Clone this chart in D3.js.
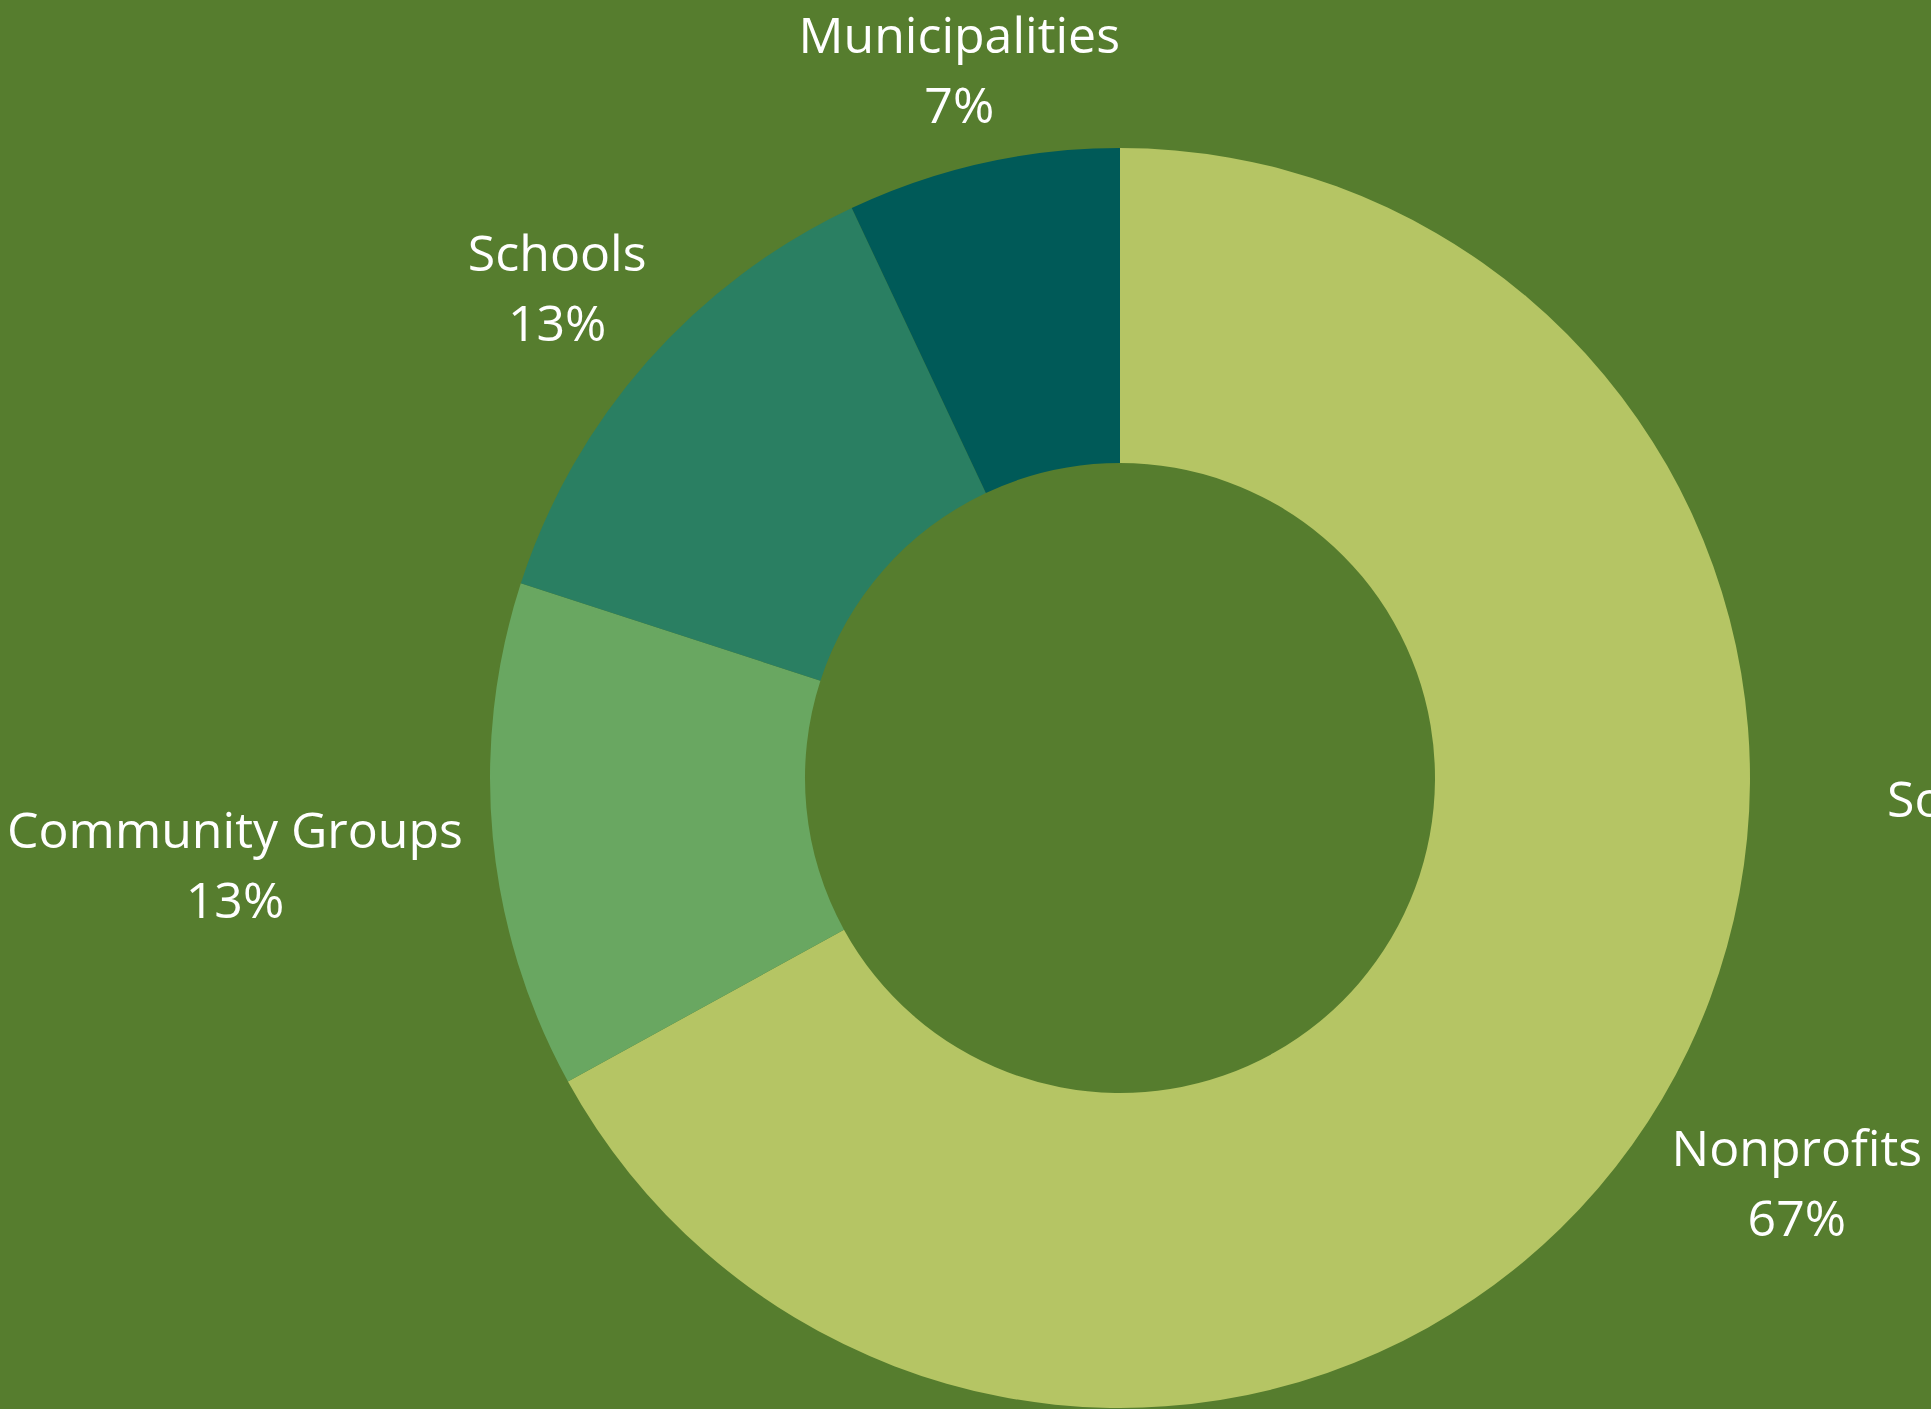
<!DOCTYPE html>
<html>
<head>
<meta charset="utf-8">
<script src="https://cdn.jsdelivr.net/npm/d3@7"></script>
<style>
  html, body { margin: 0; padding: 0; background: #567D2E; overflow: hidden; }
  svg { display: block; }
  text { font-family: "Open Sans", sans-serif; font-weight: 400; fill: #ffffff; }
</style>
</head>
<body>
<svg id="chart"></svg>
<script>
// ---- data ----
const categories = ["Nonprofits", "Community Groups", "Schools", "Municipalities"];
const values = [67, 13, 13, 7];
const valueLabels = ["67%", "13%", "13%", "7%"];
const sliceColors = ["#B5C564", "#69A761", "#2A7F62", "#005A58"];
const sideNote = "So";

// ---- layout ----
const W = 1931, H = 1409;
const cx = 1120, cy = 778;
const outerR = 630, innerR = 315;
const labelR = 661;
const fontSize = 50, lineGap = 70;

const svg = d3.select("#chart").attr("width", W).attr("height", H);
svg.append("rect").attr("width", W).attr("height", H).attr("fill", "#567D2E");

const color = d3.scaleOrdinal().domain(categories).range(sliceColors);
const pie = d3.pie().sort(null).value(d => d.value);
const arc = d3.arc().innerRadius(innerR).outerRadius(outerR);

const data = categories.map((c, i) => ({ name: c, value: values[i], label: valueLabels[i] }));
const arcs = pie(data);

const g = svg.append("g").attr("transform", `translate(${cx},${cy})`);
g.selectAll("path.slice").data(arcs).join("path")
  .attr("class", "slice")
  .attr("d", arc)
  .attr("fill", d => color(d.data.name));

// ---- labels: two-line boxes pushed outward along each slice's mid-angle ----
const asc = 1.069 * fontSize, desc = 0.293 * fontSize;
const lg = g.selectAll("g.lab").data(arcs).join("g").attr("class", "lab");
lg.append("text").attr("class", "l1").attr("text-anchor", "middle")
  .style("font-size", fontSize + "px").text(d => d.data.name);
lg.append("text").attr("class", "l2").attr("text-anchor", "middle")
  .style("font-size", fontSize + "px").attr("y", lineGap).text(d => d.data.label);

lg.each(function(d) {
  const sel = d3.select(this);
  const w = Math.max(sel.select(".l1").node().getComputedTextLength(),
                     sel.select(".l2").node().getComputedTextLength());
  const h = asc + lineGap + desc;
  const a = (d.startAngle + d.endAngle) / 2;
  const ux = Math.sin(a), uy = -Math.cos(a);
  let mx = ux * (labelR + w / 2);
  let my = 0.2 * lineGap + uy * (labelR + 1.5 * h / 2);
  // keep the box inside the top of the page; if pushed down, slide it beside the centre line
  if (cy + my - h / 2 < 0) {
    my = -cy + h / 2;
    mx = ux < 0 ? -w / 2 : w / 2;
  }
  const baseline1 = my - h / 2 + asc;
  sel.attr("transform", `translate(${mx},${baseline1})`);
});

// side note at the right edge (cut by the page edge, as in the source)
svg.append("text")
  .attr("x", cx + outerR + 137)
  .attr("y", cy + 39)
  .style("font-size", fontSize + "px")
  .text(sideNote);
</script>
</body>
</html>
